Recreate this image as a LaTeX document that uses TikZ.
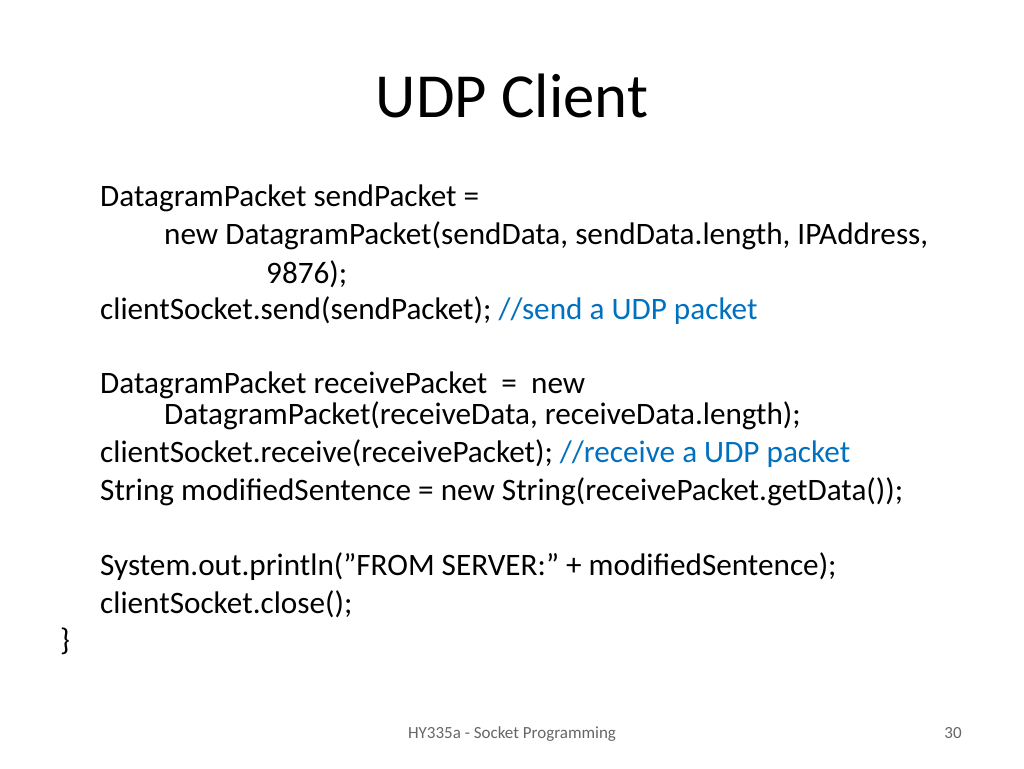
\documentclass[tikz,border=0pt]{standalone}
\usepackage{fontspec}
\setmainfont{Carlito}
\definecolor{cmt}{RGB}{0,112,192}
\begin{document}
\begin{tikzpicture}[x=1pt,y=-1pt,
  code/.style={anchor=base west,inner sep=0pt,font=\fontsize{31.2}{33}\selectfont},
  foot/.style={anchor=base,inner sep=0pt,font=\fontsize{17}{19}\selectfont,text=black!60}]
\useasboundingbox[fill=white] (0,0) rectangle (1024,768);
\node[anchor=base,inner sep=0pt,font=\fontsize{62.7}{64}\selectfont] (title) at (512,117) {UDP Client};
\node[code] (l1) at (100,206) {DatagramPacket sendPacket =};
\node[code] (l2) at (164,244) {new DatagramPacket(sendData, sendData.length, IPAddress,};
\node[code] (l3) at (266,283) {9876);};
\node[code] (l4) at (100,319) {clientSocket.send(sendPacket); \textcolor{cmt}{//send a UDP packet}};
\node[code] (l5) at (100,393) {DatagramPacket receivePacket \ = \ new};
\node[code] (l6) at (164,424) {DatagramPacket(receiveData, receiveData.length);};
\node[code] (l7) at (100,462) {clientSocket.receive(receivePacket); \textcolor{cmt}{//receive a UDP packet}};
\node[code] (l8) at (100,500) {String modifiedSentence = new String(receivePacket.getData());};
\node[code] (l9) at (100,575) {System.out.println(\symbol{34}FROM SERVER:\symbol{34} + modifiedSentence);};
\node[code] (l10) at (100,613) {clientSocket.close();};
\node[code] (l11) at (60,650) {\}};
\node[foot] (f1) at (512,738) {HY335a - Socket Programming};
\node[foot] (f2) at (953,738) {30};
\end{tikzpicture}
\end{document}
